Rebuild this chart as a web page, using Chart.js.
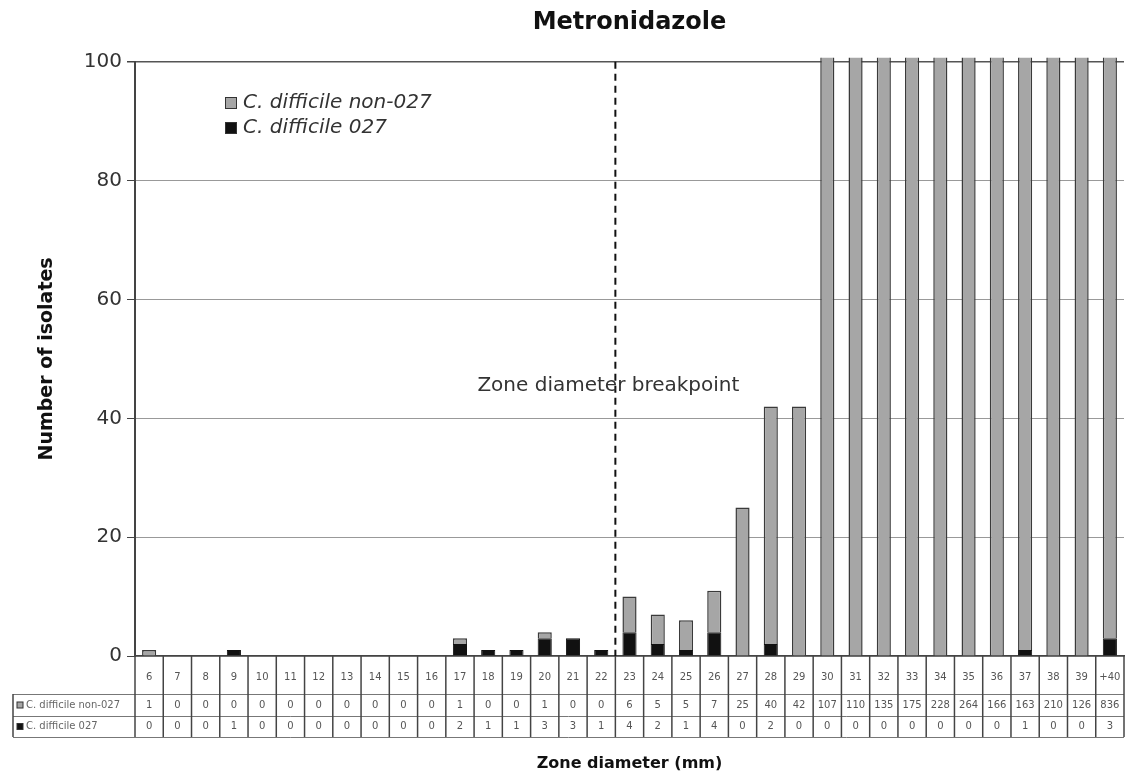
<!DOCTYPE html>
<html>
<head>
<meta charset="utf-8">
<script src="https://cdn.jsdelivr.net/npm/chart.js@4.4.0/dist/chart.umd.min.js"></script>
<style>
  html, body { margin: 0; padding: 0; background: #fff; }
  #wrap { width: 1126px; height: 780px; }
</style>
</head>
<body>
<div id="wrap"><canvas id="chart"></canvas></div>
<script>
// Зоны (мм) и число изолятов
const zones = ['6','7','8','9','10','11','12','13','14','15','16','17','18','19','20','21','22',
               '23','24','25','26','27','28','29','30','31','32','33','34','35','36','37','38','39','+40'];
const non027 = [1,0,0,0,0,0,0,0,0,0,0,1,0,0,1,0,0,
                6,5,5,7,25,40,42,107,110,135,175,228,264,166,163,210,126,836];
const ribo027 = [0,0,0,1,0,0,0,0,0,0,0,2,1,1,3,3,1,
                 4,2,1,4,0,2,0,0,0,0,0,0,0,0,1,0,0,3];
const yTicks = [0, 20, 40, 60, 80, 100];
const breakpointAfter = '22';

const WIDE = '"DejaVu Sans", Verdana, sans-serif';
const GREY = '#a6a6a6';
const BLACK = '#111111';

// Таблица данных, легенда и линия пограничного значения
const extras = {
    id: 'extras',
    afterDraw(chart) {
        const ctx = chart.ctx;
        const x = chart.scales.x;
        const area = chart.chartArea;
        const colW = x.getPixelForValue(1) - x.getPixelForValue(0);
        const edges = zones.map((z, i) => x.getPixelForValue(i) - colW / 2);
        edges.push(x.getPixelForValue(zones.length - 1) + colW / 2);

        const yTop = area.bottom, yLab = yTop + 38, yR1 = yLab + 22, yR2 = yR1 + 21;
        const leftEdge = 13;

        ctx.save();
        // горизонтальные линии таблицы
        ctx.strokeStyle = '#777';
        ctx.lineWidth = 1;
        [[edges[0], yLab], [leftEdge, yLab], [leftEdge, yR1], [leftEdge, yR2]].forEach(([x0, y]) => {
            ctx.beginPath();
            ctx.moveTo(x0, y + 0.5);
            ctx.lineTo(edges[edges.length - 1], y + 0.5);
            ctx.stroke();
        });
        // вертикальные линии
        ctx.strokeStyle = '#444';
        ctx.lineWidth = 1.5;
        edges.forEach(e => {
            ctx.beginPath();
            ctx.moveTo(e, yTop);
            ctx.lineTo(e, yR2);
            ctx.stroke();
        });
        ctx.beginPath();
        ctx.moveTo(leftEdge, yLab);
        ctx.lineTo(leftEdge, yR2);
        ctx.stroke();

        // заголовки строк
        const rows = [
            { label: 'C. difficile non-027', color: GREY, data: non027, y: (yLab + yR1) / 2 },
            { label: 'C. difficile 027', color: BLACK, data: ribo027, y: (yR1 + yR2) / 2 }
        ];
        ctx.textBaseline = 'middle';
        rows.forEach(r => {
            ctx.fillStyle = r.color;
            ctx.strokeStyle = '#333';
            ctx.lineWidth = 1;
            ctx.fillRect(17, r.y - 3, 6, 6);
            ctx.strokeRect(17, r.y - 3, 6, 6);
            ctx.fillStyle = '#666';
            ctx.font = '10px ' + WIDE;
            ctx.textAlign = 'left';
            ctx.fillText(r.label, 26, r.y);
            ctx.fillStyle = '#555';
            ctx.font = '10px ' + WIDE;
            ctx.textAlign = 'center';
            r.data.forEach((v, i) => ctx.fillText(String(v), x.getPixelForValue(i), r.y));
        });

        // пограничное значение
        const bi = zones.indexOf(breakpointAfter);
        const bx = (x.getPixelForValue(bi) + x.getPixelForValue(bi + 1)) / 2;
        ctx.strokeStyle = '#111';
        ctx.lineWidth = 2;
        ctx.setLineDash([7, 5]);
        ctx.beginPath();
        ctx.moveTo(bx, area.top);
        ctx.lineTo(bx, area.bottom);
        ctx.stroke();
        ctx.setLineDash([]);
        ctx.font = '20px ' + WIDE;
        ctx.fillStyle = '#333';
        ctx.textAlign = 'center';
        ctx.fillText('Zone diameter breakpoint', bx - 7, 386);

        // легенда внутри области графика
        const legend = [
            { label: 'C. difficile non-027', color: GREY, y: 103 },
            { label: 'C. difficile 027', color: BLACK, y: 128 }
        ];
        legend.forEach(l => {
            ctx.fillStyle = l.color;
            ctx.strokeStyle = '#333';
            ctx.lineWidth = 1;
            ctx.fillRect(225, l.y - 6, 12, 12);
            ctx.strokeRect(225.5, l.y - 5.5, 11, 11);
            ctx.fillStyle = '#333';
            ctx.font = 'italic 20px ' + WIDE;
            ctx.textAlign = 'left';
            ctx.fillText(l.label, 243, l.y);
        });
        ctx.restore();
    }
};

new Chart(document.getElementById('chart'), {
    type: 'bar',
    data: {
        labels: zones,
        datasets: [{
            label: 'C. difficile 027',
            data: ribo027,
            backgroundColor: BLACK,
            borderColor: BLACK,
            borderWidth: 1
        }, {
            label: 'C. difficile non-027',
            data: non027,
            backgroundColor: GREY,
            borderColor: '#3a3a3a',
            borderWidth: 1.5
        }]
    },
    options: {
        responsive: true,
        maintainAspectRatio: false,
        animation: false,
        datasets: {
            bar: { categoryPercentage: 1, barPercentage: 0.5, clip: { left: 0, top: 4, right: 0, bottom: 0 } }
        },
        layout: { padding: { left: 36, right: 2, top: 0, bottom: 4 } },
        plugins: {
            legend: { display: false },
            tooltip: { enabled: false },
            title: {
                display: true,
                text: 'Metronidazole',
                fullSize: false,
                color: '#111',
                font: { family: WIDE, size: 24, weight: 'bold' },
                padding: { top: 8, bottom: 25 }
            }
        },
        scales: {
            x: {
                stacked: true,
                grid: { display: true, drawOnChartArea: false, drawTicks: true, tickLength: 15, tickColor: 'rgba(0,0,0,0)' },
                border: { display: true, color: '#444', width: 1.5 },
                ticks: { color: '#555', font: { family: WIDE, size: 10 }, padding: 0, maxRotation: 0, autoSkip: false },
                title: {
                    display: true,
                    text: 'Zone diameter (mm)',
                    color: '#111',
                    font: { family: WIDE, size: 16, weight: 'bold' },
                    padding: { top: 0, bottom: 3 }
                },
                afterFit(scale) { scale.height = 120; }
            },
            y: {
                stacked: true,
                min: 0,
                max: 100,
                afterBuildTicks(scale) { scale.ticks = yTicks.map(v => ({ value: v })); },
                grid: {
                    color: ctx => (ctx.tick && ctx.tick.value === 100) ? '#555' : '#999',
                    lineWidth: ctx => (ctx.tick && ctx.tick.value === 100) ? 1.5 : 1,
                    tickLength: 8,
                    tickColor: '#444'
                },
                border: { display: true, color: '#444', width: 2 },
                ticks: { color: '#333', font: { family: WIDE, size: 20 }, padding: 5 },
                title: {
                    display: true,
                    text: 'Number of isolates',
                    color: '#111',
                    font: { family: WIDE, size: 19, weight: 'bold' },
                    padding: 0
                },
                afterFit(scale) { scale.width = 99; }
            }
        }
    },
    plugins: [extras]
});
</script>
</body>
</html>
